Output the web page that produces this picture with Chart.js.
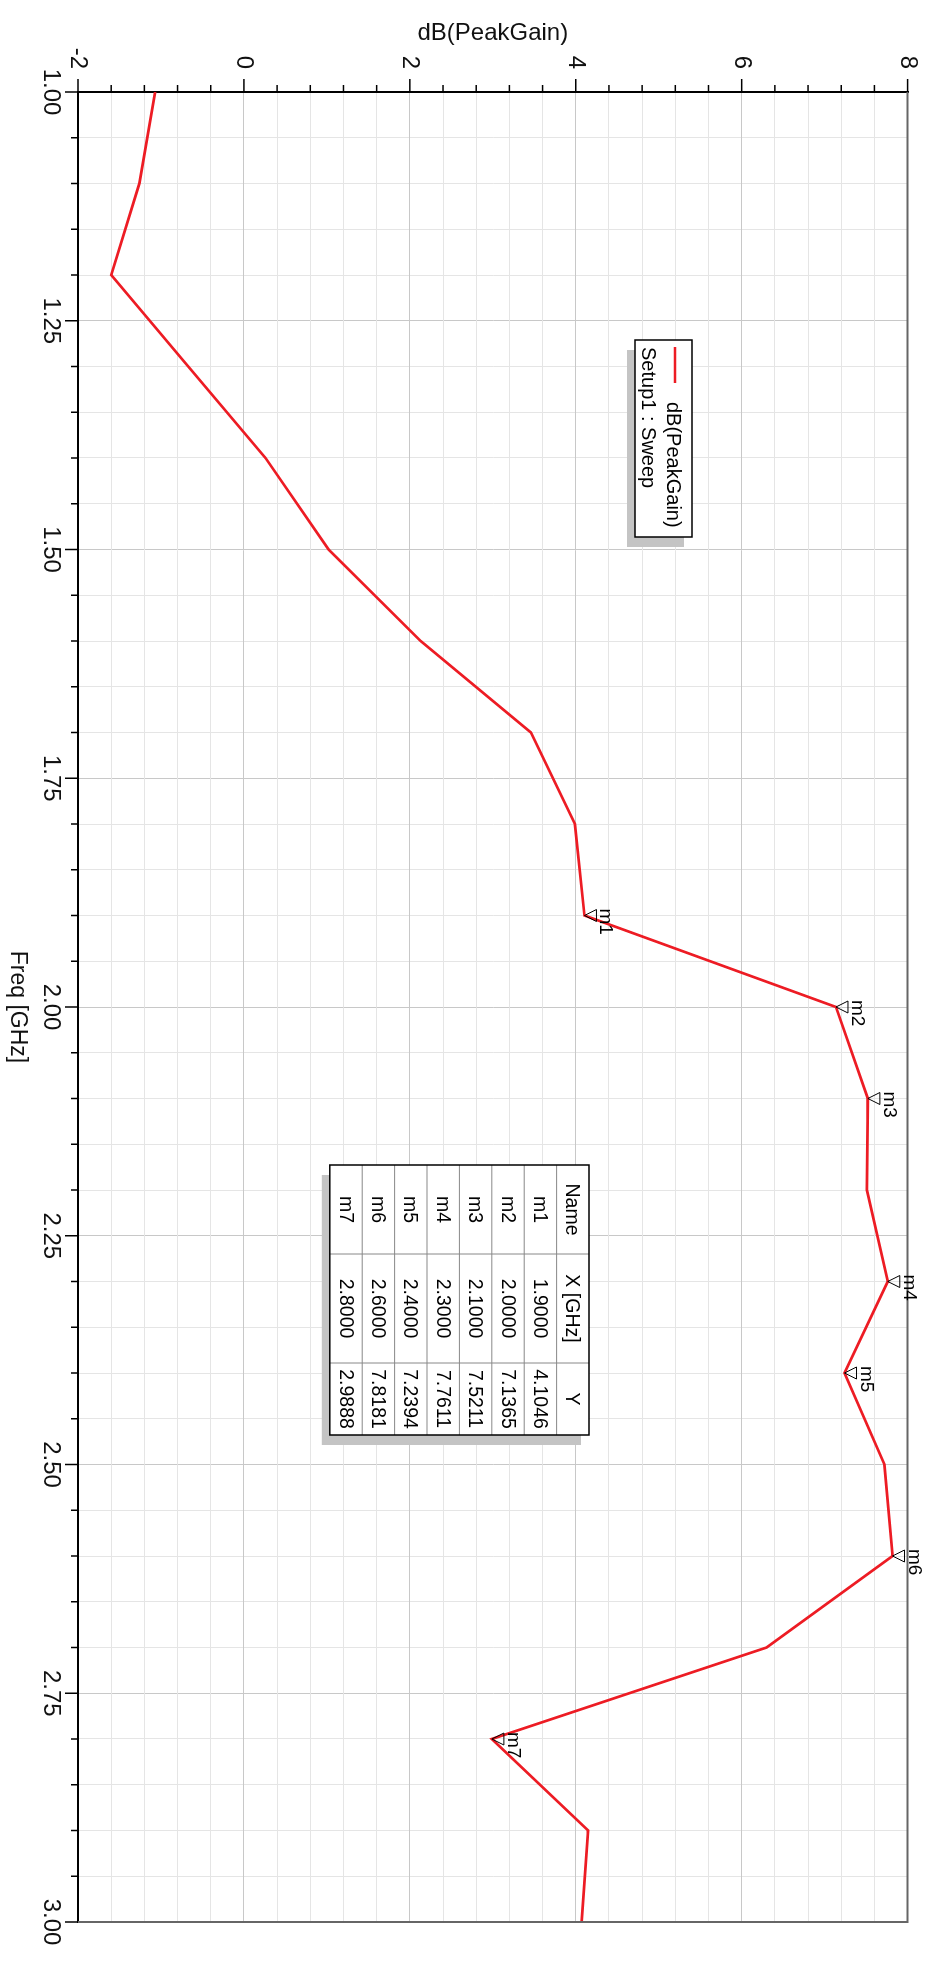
<!DOCTYPE html>
<html>
<head>
<meta charset="utf-8">
<script src="https://cdn.jsdelivr.net/npm/chart.js@4.4.1/dist/chart.umd.min.js"></script>
<style>
  html, body { margin: 0; padding: 0; background: #fff; overflow: hidden; }
  /* plot is laid out landscape, then turned a quarter clockwise */
  #wrap { position: absolute; left: 0; top: 0; width: 1966px; height: 945px;
          transform-origin: 0 0; transform: translateX(945px) rotate(90deg); }
</style>
</head>
<body>
<div id="wrap"><canvas id="gain" width="1966" height="945"></canvas></div>
<script>
// sweep trace
var freqGHz = [1.0, 1.1, 1.2, 1.3, 1.4, 1.5, 1.6, 1.7, 1.8, 1.9, 2.0, 2.1, 2.2, 2.3, 2.4, 2.5, 2.6, 2.7, 2.8, 2.9, 3.0];
var peakGainDb = [-1.07, -1.26, -1.60, -0.67, 0.26, 1.02, 2.13, 3.46, 3.99, 4.1046, 7.1365, 7.5211, 7.51, 7.7611, 7.2394, 7.72, 7.8181, 6.30, 2.9888, 4.15, 4.07];

// markers on the trace
var markerNames = ['m1', 'm2', 'm3', 'm4', 'm5', 'm6', 'm7'];
var markerFreq = [1.9, 2.0, 2.1, 2.3, 2.4, 2.6, 2.8];
var markerGain = [4.1046, 7.1365, 7.5211, 7.7611, 7.2394, 7.8181, 2.9888];

// axis labels
var freqLabels = ['1.00', '1.25', '1.50', '1.75', '2.00', '2.25', '2.50', '2.75', '3.00'];
var gainLabels = ['-2', '0', '2', '4', '6', '8'];

var FONT = '"Liberation Sans", Arial, sans-serif';

function isMajor(v, step) {
  var k = v / step;
  return Math.abs(k - Math.round(k)) < 1e-6;
}

var points = freqGHz.map(function (f, i) { return { x: f, y: peakGainDb[i] }; });

var hfssDecor = {
  id: 'hfssDecor',
  beforeDraw: function (chart) {
    var ctx = chart.ctx;
    ctx.save();
    ctx.fillStyle = '#fff';
    ctx.fillRect(0, 0, chart.width, chart.height);
    ctx.restore();
  },
  afterDraw: function (chart) {
    var ctx = chart.ctx, area = chart.chartArea;
    var xs = chart.scales.x, ys = chart.scales.y;
    ctx.save();

    // far edges of the frame
    ctx.strokeStyle = '#666';
    ctx.lineWidth = 2;
    ctx.beginPath();
    ctx.moveTo(area.left, area.top);
    ctx.lineTo(area.right, area.top);
    ctx.lineTo(area.right, area.bottom);
    ctx.stroke();

    // outside tick marks, long on labelled values
    ctx.strokeStyle = '#000';
    ctx.lineWidth = 1.5;
    xs.ticks.forEach(function (t) {
      var p = xs.getPixelForValue(t.value);
      var len = isMajor(t.value, 0.25) ? 13 : 7;
      ctx.beginPath();
      ctx.moveTo(p, area.bottom);
      ctx.lineTo(p, area.bottom + len);
      ctx.stroke();
    });
    ys.ticks.forEach(function (t) {
      var p = ys.getPixelForValue(t.value);
      var len = isMajor(t.value, 2) ? 13 : 7;
      ctx.beginPath();
      ctx.moveTo(area.left, p);
      ctx.lineTo(area.left - len, p);
      ctx.stroke();
    });

    // marker triangles and names
    ctx.lineWidth = 1;
    ctx.strokeStyle = '#000';
    ctx.fillStyle = '#000';
    ctx.font = '19px ' + FONT;
    ctx.textAlign = 'left';
    ctx.textBaseline = 'alphabetic';
    markerNames.forEach(function (name, i) {
      var px = xs.getPixelForValue(markerFreq[i]);
      var py = ys.getPixelForValue(markerGain[i]);
      ctx.beginPath();
      ctx.moveTo(px, py);
      ctx.lineTo(px - 6, py - 12);
      ctx.lineTo(px + 6, py - 12);
      ctx.closePath();
      ctx.stroke();
      ctx.fillText(name, px - 7, py - 16);
    });

    // legend box
    var lg = { x: 340, y: 253, w: 197, h: 57 };
    ctx.fillStyle = '#c4c4c4';
    ctx.fillRect(lg.x + 10, lg.y + 8, lg.w, lg.h);
    ctx.fillStyle = '#fff';
    ctx.fillRect(lg.x, lg.y, lg.w, lg.h);
    ctx.strokeStyle = '#000';
    ctx.lineWidth = 1.5;
    ctx.strokeRect(lg.x, lg.y, lg.w, lg.h);
    ctx.strokeStyle = 'rgb(237,28,36)';
    ctx.lineWidth = 2.5;
    ctx.beginPath();
    ctx.moveTo(lg.x + 7, lg.y + 17);
    ctx.lineTo(lg.x + 43, lg.y + 17);
    ctx.stroke();
    ctx.fillStyle = '#000';
    ctx.font = '20px ' + FONT;
    ctx.textBaseline = 'middle';
    ctx.fillText('dB(PeakGain)', lg.x + 62, lg.y + 19);
    ctx.fillText('Setup1 : Sweep', lg.x + 7, lg.y + 44);

    // marker table
    var tb = { x: 1165, y: 356 };
    var colW = [89, 109, 72];
    var rowH = 32.4;
    var tw = colW[0] + colW[1] + colW[2];
    var th = rowH * (markerNames.length + 1);
    ctx.fillStyle = '#c4c4c4';
    ctx.fillRect(tb.x + 10, tb.y + 8, tw, th);
    ctx.fillStyle = '#fff';
    ctx.fillRect(tb.x, tb.y, tw, th);
    ctx.strokeStyle = '#888';
    ctx.lineWidth = 1;
    for (var r = 1; r <= markerNames.length; r++) {
      ctx.beginPath();
      ctx.moveTo(tb.x, tb.y + r * rowH);
      ctx.lineTo(tb.x + tw, tb.y + r * rowH);
      ctx.stroke();
    }
    var cx = tb.x;
    for (var c = 0; c < 2; c++) {
      cx += colW[c];
      ctx.beginPath();
      ctx.moveTo(cx, tb.y);
      ctx.lineTo(cx, tb.y + th);
      ctx.stroke();
    }
    ctx.strokeStyle = '#000';
    ctx.lineWidth = 1.5;
    ctx.strokeRect(tb.x, tb.y, tw, th);

    ctx.fillStyle = '#000';
    ctx.font = '19.5px ' + FONT;
    ctx.textAlign = 'center';
    ctx.textBaseline = 'middle';
    var rows = [['Name', 'X [GHz]', 'Y']];
    markerNames.forEach(function (name, i) {
      rows.push([name, markerFreq[i].toFixed(4), markerGain[i].toFixed(4)]);
    });
    rows.forEach(function (row, r) {
      var x0 = tb.x;
      row.forEach(function (txt, c) {
        ctx.fillText(txt, x0 + colW[c] / 2, tb.y + rowH * r + rowH / 2 + 1);
        x0 += colW[c];
      });
    });

    ctx.restore();
  }
};

new Chart(document.getElementById('gain'), {
  type: 'line',
  data: {
    datasets: [{
      label: 'dB(PeakGain)',
      data: points,
      borderColor: 'rgb(237,28,36)',
      borderWidth: 2.7,
      pointRadius: 0,
      tension: 0,
      fill: false
    }]
  },
  options: {
    responsive: false,
    animation: false,
    events: [],
    layout: { padding: { top: 23, right: 44, left: 0, bottom: 0 } },
    plugins: { legend: { display: false }, tooltip: { enabled: false } },
    scales: {
      x: {
        type: 'linear',
        position: 'bottom',
        min: 1, max: 3,
        afterFit: function (scale) { scale.height = 78; },
        border: { display: true, color: '#000', width: 2 },
        grid: {
          drawTicks: false,
          lineWidth: 1,
          color: function (c) { return isMajor(c.tick.value, 0.25) ? '#c8c8c8' : '#e5e5e5'; }
        },
        ticks: {
          stepSize: 0.05,
          autoSkip: false,
          maxRotation: 0,
          padding: 13,
          color: '#111',
          font: { family: FONT, size: 24 },
          callback: function (v) {
            return isMajor(v - 1, 0.25) ? freqLabels[Math.round((v - 1) / 0.25)] : '';
          }
        },
        title: {
          display: true,
          text: 'Freq [GHz]',
          color: '#111',
          font: { family: FONT, size: 23 },
          padding: { top: 0, bottom: 4 }
        }
      },
      y: {
        type: 'linear',
        position: 'left',
        min: -2, max: 8,
        afterFit: function (scale) { scale.width = 92; },
        border: { display: true, color: '#000', width: 2 },
        grid: {
          drawTicks: false,
          lineWidth: 1,
          color: function (c) { return isMajor(c.tick.value, 2) ? '#c8c8c8' : '#e5e5e5'; }
        },
        ticks: {
          stepSize: 0.4,
          autoSkip: false,
          padding: 23,
          color: '#111',
          font: { family: FONT, size: 24 },
          callback: function (v) {
            return isMajor(v, 2) ? gainLabels[Math.round((v + 2) / 2)] : '';
          }
        },
        title: {
          display: true,
          text: 'dB(PeakGain)',
          color: '#111',
          font: { family: FONT, size: 24 },
          padding: { top: 19, bottom: 0 }
        }
      }
    }
  },
  plugins: [hfssDecor]
});
</script>
</body>
</html>
